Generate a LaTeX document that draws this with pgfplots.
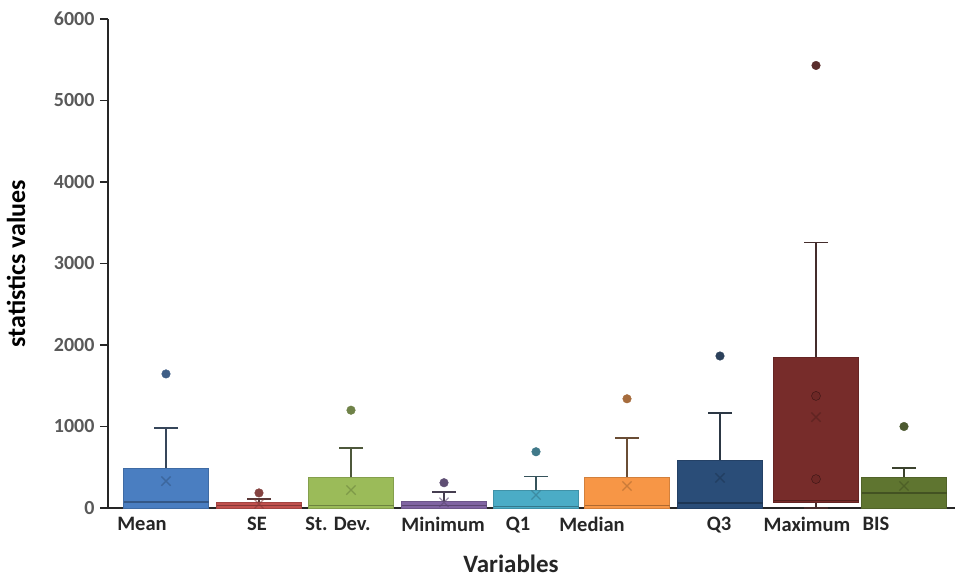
\documentclass[border=0pt]{standalone}
\usepackage{fontspec}
\setmainfont{Carlito}
\usepackage{pgfplots}
\pgfplotsset{compat=1.18}
\usepgfplotslibrary{statistics}
\definecolor{cMean}{HTML}{4A7EC1}
\definecolor{cSE}{HTML}{C0504D}
\definecolor{cSD}{HTML}{9BBB59}
\definecolor{cMin}{HTML}{8064A2}
\definecolor{cQ1}{HTML}{4BACC6}
\definecolor{cMed}{HTML}{F79646}
\definecolor{cQ3}{HTML}{2A4D78}
\definecolor{cMax}{HTML}{772C2A}
\definecolor{cBIS}{HTML}{5F7530}
\definecolor{tickgray}{HTML}{595959}
\pgfplotsset{
  mybox/.style={
    fill=#1, draw=#1!85!black, line width=1pt,
    boxplot/draw direction=y,
    boxplot/every whisker/.style={draw=#1!40!black!75!gray, line width=1.3pt},
    boxplot/every median/.style={draw=#1!70!black, line width=1.3pt},
  },
  myout/.style={only marks, mark=*, mark size=4.3pt, color=#1!70!black!85!gray, mark options={draw=none, fill=#1!70!black!85!gray}},
  mymean/.style={only marks, mark=x, mark size=6.5pt, color=#1!70!black, mark options={line width=1.3pt, opacity=0.6}},
}
\begin{document}
\begin{tikzpicture}[x=1pt,y=1pt]
\useasboundingbox (-108,-72) rectangle (849,508);
\begin{axis}[
  at={(0,0)}, anchor=south west,
  scale only axis, width=847pt, height=489pt,
  xmin=108, xmax=955, ymin=0, ymax=6000,
  clip=false,
  axis x line=bottom, axis y line=left,
  axis line style={-, line width=1.6pt, black!85},
  ytick={0,1000,...,6000},
  tick align=outside, major tick length=8pt,
  ytick style={line width=1.4pt, black!85},
  xtick={142,257,338,443,518,592,719,807,876},
  xticklabels={Mean,SE,St. Dev.,Minimum,Q1,Median,Q3,Maximum,BIS},
  xtick style={draw=none},
  /pgf/number format/assume math mode=true,
  /pgf/number format/set thousands separator={},
  yticklabel style={font=\fontsize{20}{24}\selectfont\bfseries, color=tickgray, xshift=-2pt},
  xticklabel style={font=\fontsize{20.5}{24}\selectfont\bfseries, color=black!85, anchor=north, yshift=2pt},
  ylabel={statistics values},
  xlabel={Variables},
  every axis y label/.style={at={(axis description cs:0,0.5)}, xshift=-92pt, rotate=90, anchor=center, font=\fontsize{26}{30}\selectfont\bfseries, color=black},
  every axis x label/.style={at={(axis description cs:0,0)}, xshift=403pt, yshift=-56pt, anchor=center, inner sep=0pt, font=\fontsize{25}{28}\selectfont\bfseries, color=black!85},
]
% boxes
\addplot[mybox=cMean, boxplot prepared={lower whisker=0, lower quartile=0, median=75, upper quartile=490, upper whisker=980, draw position=166, box extend=85, whisker extend=24}] coordinates {};
\addplot[mybox=cSE, boxplot prepared={lower whisker=0, lower quartile=0, median=30, upper quartile=70, upper whisker=110, draw position=259, box extend=85, whisker extend=24}] coordinates {};
\addplot[mybox=cSD, boxplot prepared={lower whisker=0, lower quartile=0, median=30, upper quartile=380, upper whisker=735, draw position=351, box extend=85, whisker extend=24}] coordinates {};
\addplot[mybox=cMin, boxplot prepared={lower whisker=0, lower quartile=0, median=30, upper quartile=85, upper whisker=195, draw position=444, box extend=85, whisker extend=24}] coordinates {};
\addplot[mybox=cQ1, boxplot prepared={lower whisker=0, lower quartile=0, median=20, upper quartile=210, upper whisker=390, draw position=536, box extend=85, whisker extend=24}] coordinates {};
\addplot[mybox=cMed, boxplot prepared={lower whisker=0, lower quartile=0, median=30, upper quartile=380, upper whisker=860, draw position=627, box extend=85, whisker extend=24}] coordinates {};
\addplot[mybox=cQ3, boxplot prepared={lower whisker=0, lower quartile=0, median=60, upper quartile=580, upper whisker=1165, draw position=720, box extend=85, whisker extend=24}] coordinates {};
\addplot[mybox=cMax, boxplot prepared={lower whisker=0, lower quartile=70, median=90, upper quartile=1850, upper whisker=3260, draw position=816, box extend=85, whisker extend=24}] coordinates {};
\addplot[mybox=cBIS, boxplot prepared={lower whisker=0, lower quartile=0, median=185, upper quartile=370, upper whisker=490, draw position=904, box extend=85, whisker extend=24}] coordinates {};
% outliers
\addplot[myout=cMean] coordinates {(166,1645)};
\addplot[myout=cSE] coordinates {(259,185)};
\addplot[myout=cSD] coordinates {(351,1200)};
\addplot[myout=cMin] coordinates {(444,310)};
\addplot[myout=cQ1] coordinates {(536,690)};
\addplot[myout=cMed] coordinates {(627,1340)};
\addplot[myout=cQ3] coordinates {(720,1865)};
\addplot[myout=cMax] coordinates {(816,5430)};
\addplot[myout=cBIS] coordinates {(904,1000)};
% inner points of Maximum
\addplot[only marks, mark=*, mark size=4.5pt, mark options={draw=none, fill=cMax!85!black, opacity=0.5}] coordinates {(816,1375) (816,355)};
% means
\addplot[mymean=cMean] coordinates {(166,330)};
\addplot[mymean=cSE] coordinates {(259,50)};
\addplot[mymean=cSD] coordinates {(351,220)};
\addplot[mymean=cMin] coordinates {(444,70)};
\addplot[mymean=cQ1] coordinates {(536,160)};
\addplot[mymean=cMed] coordinates {(627,270)};
\addplot[mymean=cQ3] coordinates {(720,370)};
\addplot[mymean=cMax] coordinates {(816,1115)};
\addplot[mymean=cBIS] coordinates {(904,270)};
\end{axis}
\end{tikzpicture}
\end{document}
